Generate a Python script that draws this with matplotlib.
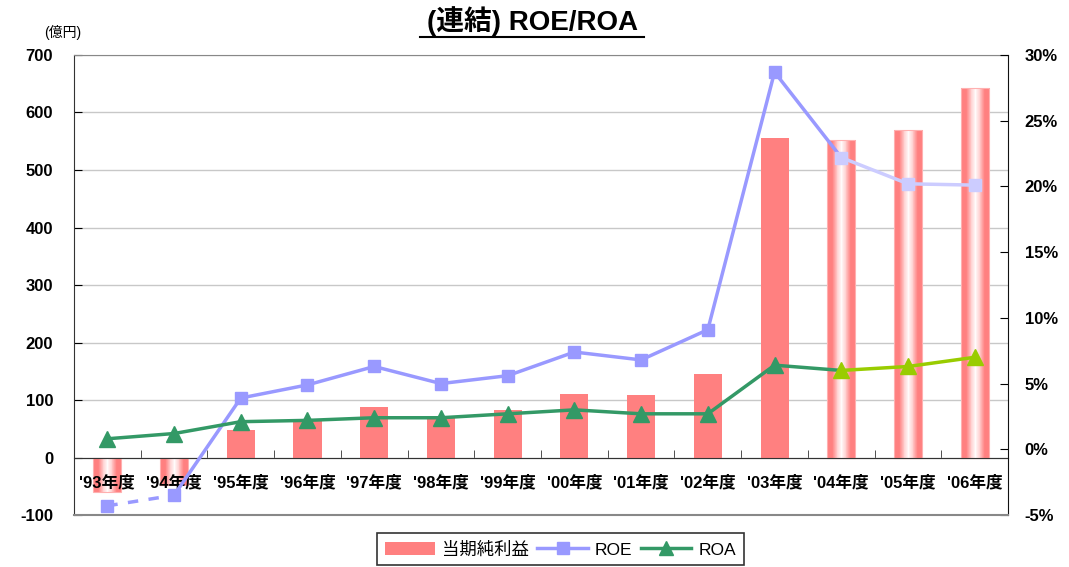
import numpy as np
import matplotlib
matplotlib.use("Agg")
import matplotlib.pyplot as plt
from matplotlib.colors import LinearSegmentedColormap
from matplotlib.lines import Line2D
from matplotlib.patches import Patch

plt.rcParams['font.family'] = ['Liberation Sans', 'Noto Sans CJK JP', 'DejaVu Sans']
plt.rcParams['axes.unicode_minus'] = False

years = ["'93", "'94", "'95", "'96", "'97", "'98", "'99", "'00",
         "'01", "'02", "'03", "'04", "'05", "'06"]
labels = [y + "年度" for y in years]
net_income = [-60, -47, 47, 63, 87, 70, 83, 110, 108, 146, 555, 552, 570, 642]
roe = [-4.3, -3.5, 3.9, 4.9, 6.3, 5.0, 5.6, 7.4, 6.8, 9.1, 28.7, 22.2, 20.2, 20.1]
roa = [0.8, 1.2, 2.1, 2.2, 2.4, 2.4, 2.7, 3.0, 2.7, 2.7, 6.4, 6.0, 6.3, 7.0]

# years drawn with the striped (gradient) bar style
striped = ["'93", "'94", "'04", "'05", "'06"]
# split points for line styles
first_solid = 1   # '94
last_actual = 10  # '03

BAR = '#ff8080'
ROE_C = '#9999ff'
ROE_L = '#ccccff'
ROA_C = '#339966'
ROA_L = '#99cc00'

fig = plt.figure(figsize=(10.69, 5.67), dpi=100)
ax = fig.add_axes([0.0692, 0.0917, 0.8738, 0.8113])
ax2 = ax.twinx()

x = np.arange(len(years))
w = 0.42

bars = ax.bar(x, net_income, width=w, color=BAR, zorder=2)
stripe_cmap = LinearSegmentedColormap.from_list('stripe', ['#ffffff', '#ffd0d0', BAR, BAR])
prof = np.abs(np.linspace(-1, 1, 64)) ** 0.9
for b, yr in zip(bars, years):
    if yr not in striped:
        continue
    b.set_facecolor('none')
    b.set_edgecolor('#ffb0b0')
    b.set_linewidth(0.8)
    x0, y0 = b.get_x(), b.get_y()
    bw, bh = b.get_width(), b.get_height()
    img = ax.imshow(prof[np.newaxis, :], cmap=stripe_cmap, aspect='auto',
                    extent=[x0, x0 + bw, y0, y0 + bh], zorder=1.9,
                    interpolation='nearest', vmin=0, vmax=1)
    img.set_clip_path(b)

ax.set_xlim(-0.5, len(years) - 0.5)
ax.set_ylim(-100, 700)
ax.set_yticks(np.arange(-100, 701, 100))
ax.yaxis.grid(True, color='#c8c8c8', linewidth=1)
ax.set_axisbelow(True)

# category axis sits on the zero line
ax.spines['bottom'].set_position(('data', 0))
ax.spines['bottom'].set_color('#333333')
ax.spines['top'].set_color('#888888')
ax.spines['left'].set_color('#333333')
ax.spines['right'].set_visible(False)
ax.set_xticks(x)
ax.set_xticklabels([])
ax.set_xticks(np.arange(0.5, len(years) - 1, 1), minor=True)
ax.tick_params(axis='x', which='major', length=0)
ax.tick_params(axis='x', which='minor', direction='in', length=6, color='#333333')
ax.tick_params(axis='y', direction='in', length=6, labelsize=12, pad=15)
for t in ax.get_yticklabels():
    t.set_fontweight('bold')

# category labels drawn above the bars
for xi, lab in zip(x, labels):
    ax.text(xi, -43, lab, ha='center', va='center', fontsize=12,
            fontweight='bold', zorder=6)

ax2.set_ylim(-5, 30)
ax2.set_yticks(np.arange(-5, 31, 5))
ax2.set_yticklabels([f"{v}%" for v in range(-5, 31, 5)], fontsize=12, fontweight='bold')
ax2.tick_params(axis='y', direction='in', length=6, pad=12)
ax2.spines['right'].set_color('#111111')
ax2.spines['bottom'].set_color('#888888')
ax2.spines['bottom'].set_linewidth(1.5)
ax2.spines['top'].set_visible(False)
ax2.spines['left'].set_visible(False)

# ROE
ax2.plot(x[:2], roe[:2], color=ROE_C, lw=2.5, ls=(0, (3, 3)), zorder=3)
ax2.plot(x[first_solid:last_actual + 2], roe[first_solid:last_actual + 2],
         color=ROE_C, lw=2.5, zorder=3)
ax2.plot(x[last_actual + 1:], roe[last_actual + 1:], color=ROE_L, lw=2.5, zorder=3)
ax2.plot(x[:last_actual + 1], roe[:last_actual + 1], ls='none', marker='s',
         ms=8, color=ROE_C, zorder=4)
ax2.plot(x[last_actual + 1:], roe[last_actual + 1:], ls='none', marker='s',
         ms=8, color=ROE_L, zorder=4)

# ROA
ax2.plot(x[:last_actual + 2], roa[:last_actual + 2], color=ROA_C, lw=2.5, zorder=3)
ax2.plot(x[last_actual + 1:], roa[last_actual + 1:], color=ROA_L, lw=2.5, zorder=3)
ax2.plot(x[:last_actual + 1], roa[:last_actual + 1], ls='none', marker='^',
         ms=11, color=ROA_C, zorder=4)
ax2.plot(x[last_actual + 1:], roa[last_actual + 1:], ls='none', marker='^',
         ms=11, color=ROA_L, zorder=4)

fig.text(0.498, 0.963, "(連結) ROE/ROA", ha='center', va='center',
         fontsize=20, fontweight='bold')
title_line = Line2D([0.393, 0.602], [0.935, 0.935], transform=fig.transFigure,
                    color='black', lw=1.5)
fig.add_artist(title_line)
fig.text(0.059, 0.942, "(億円)", ha='center', va='center', fontsize=10)

handles = [Patch(facecolor=BAR, edgecolor='none'),
           Line2D([], [], color=ROE_C, lw=2.5, marker='s', ms=8),
           Line2D([], [], color=ROA_C, lw=2.5, marker='^', ms=10)]
leg = fig.legend(handles, ['当期純利益', 'ROE', 'ROA'], loc='center',
                 bbox_to_anchor=(0.524, 0.031), ncol=3, fontsize=12.5,
                 frameon=True, fancybox=False, edgecolor='black',
                 handlelength=2.9, columnspacing=0.5, handletextpad=0.4,
                 borderpad=0.45)
leg.get_frame().set_linewidth(1.2)

fig.savefig('out.png', dpi=100)
